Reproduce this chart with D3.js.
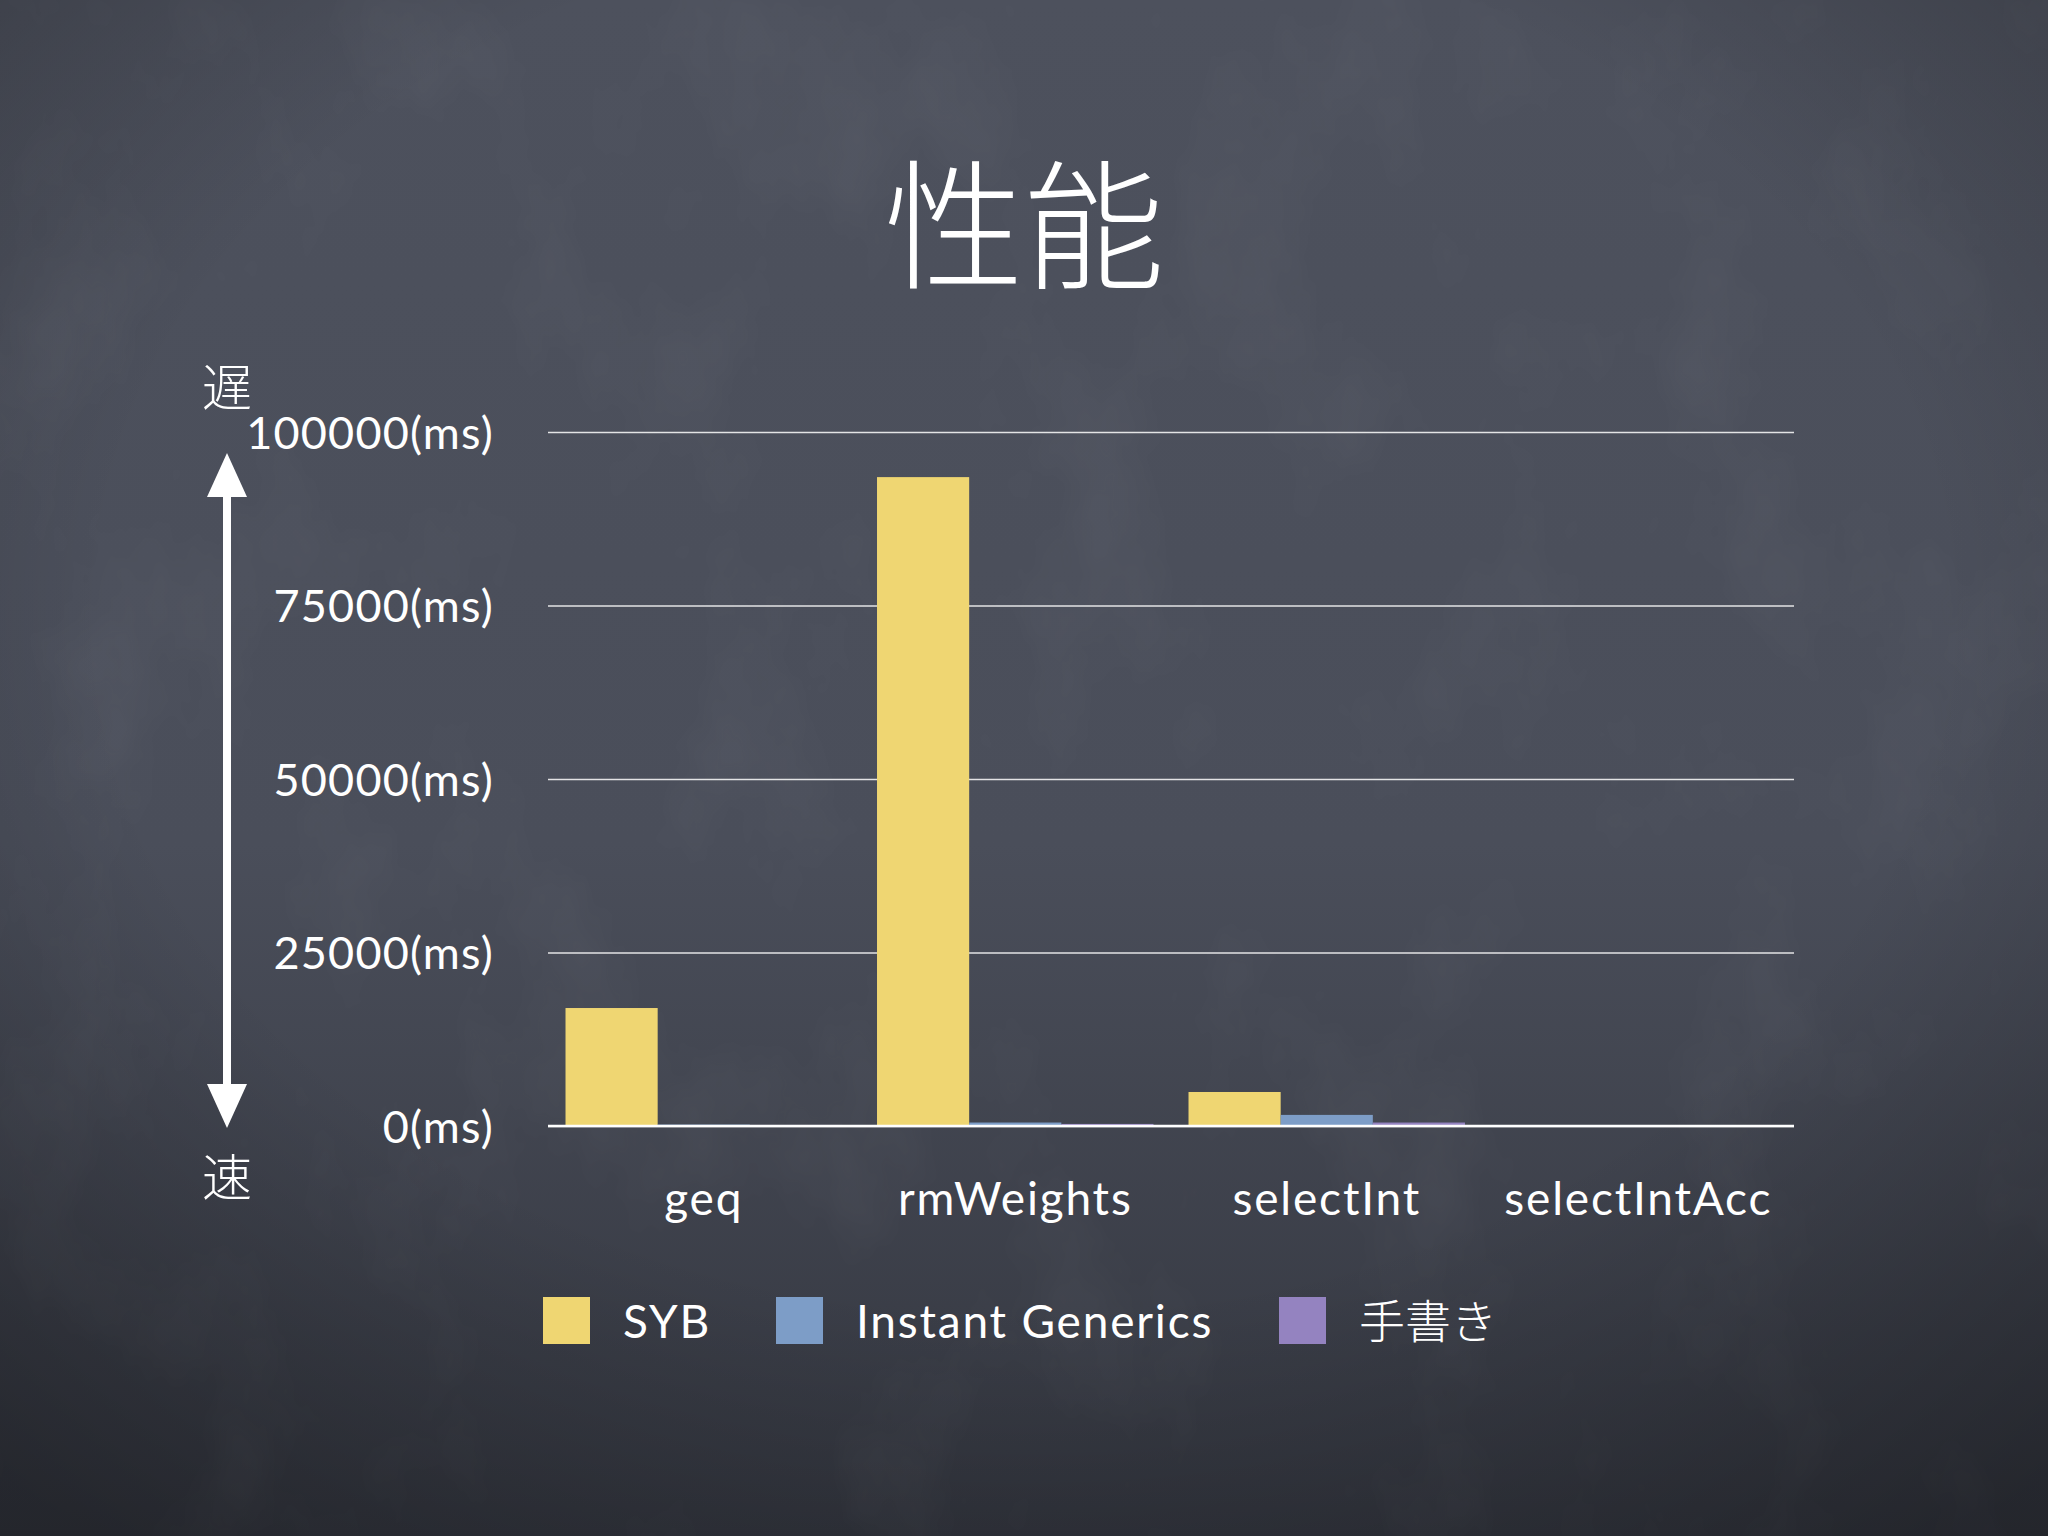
<!DOCTYPE html>
<html>
<head>
<meta charset="utf-8">
<script src="https://cdn.jsdelivr.net/npm/d3@7"></script>
<style>
  html, body { margin: 0; padding: 0; background: #3c3f4a; }
  svg { display: block; }
</style>
</head>
<body>
<div class="chart"></div>
<script>
// data
var categories = ["geq", "rmWeights", "selectInt", "selectIntAcc"];
var seriesNames = ["SYB", "Instant Generics", "手書き"];
var sybValues = [17000, 93500, 4900, 40];
var igValues = [200, 500, 1600, 20];
var handValues = [150, 300, 500, 15];
var yTicks = [0, 25000, 50000, 75000, 100000];
var colors = ["#efd672", "#7d9dc7", "#9483c0"];

var W = 2048, H = 1536;
var margin = {top: 432, right: 2048 - 1794, bottom: 1536 - 1126, left: 548};
var width = W - margin.left - margin.right,
    height = H - margin.top - margin.bottom;

var latin = "Lato, 'Noto Sans', sans-serif";
var cjk = "'Noto Sans CJK JP', 'Noto Sans', sans-serif";

var svg = d3.select(".chart").append("svg")
    .attr("width", W)
    .attr("height", H);

var defs = svg.append("defs");
var bg = defs.append("linearGradient").attr("id", "bg")
    .attr("x1", 0).attr("y1", 0).attr("x2", 0).attr("y2", 1);
bg.append("stop").attr("offset", "0%").attr("stop-color", "#4d515d");
bg.append("stop").attr("offset", "55%").attr("stop-color", "#4a4e5a");
bg.append("stop").attr("offset", "100%").attr("stop-color", "#33363f");

var vig = defs.append("radialGradient").attr("id", "vig")
    .attr("cx", "50%").attr("cy", "40%").attr("r", "75%");
vig.append("stop").attr("offset", "60%").attr("stop-color", "#000").attr("stop-opacity", 0);
vig.append("stop").attr("offset", "100%").attr("stop-color", "#000").attr("stop-opacity", 0.3);

// faint chalk smudges
var chalk = defs.append("filter").attr("id", "chalk")
    .attr("x", 0).attr("y", 0).attr("width", "100%").attr("height", "100%");
chalk.append("feTurbulence").attr("type", "fractalNoise")
    .attr("baseFrequency", "0.006 0.004").attr("numOctaves", 5).attr("seed", 3);
chalk.append("feColorMatrix").attr("type", "matrix")
    .attr("values", "0 0 0 0 1  0 0 0 0 1  0 0 0 0 1  0 0 0 0.8 -0.4");

svg.append("rect").attr("width", W).attr("height", H).attr("fill", "url(#bg)");
svg.append("rect").attr("width", W).attr("height", H).attr("filter", "url(#chalk)").attr("opacity", 0.12);
svg.append("rect").attr("width", W).attr("height", H).attr("fill", "url(#vig)");

// title
svg.append("text")
    .attr("x", W / 2)
    .attr("y", 278)
    .attr("text-anchor", "middle")
    .attr("font-family", cjk)
    .attr("font-weight", 300)
    .attr("font-size", 140)
    .attr("fill", "#fff")
    .text("性能");

var g = svg.append("g").attr("transform", "translate(" + margin.left + "," + margin.top + ")");

var x0 = d3.scaleBand().domain(categories).range([0, width]).padding(0);
var x1 = d3.scaleBand().domain(seriesNames).range([0, x0.bandwidth()])
    .paddingInner(0).paddingOuter(0.19);
var y = d3.scaleLinear().domain([0, 100000]).range([height, 0]);

// gridlines + tick labels
var yAxis = d3.axisLeft(y)
    .tickValues(yTicks)
    .tickSize(-width)
    .tickPadding(54)
    .tickFormat(function(d) { return d + "(ms)"; });

var ya = g.append("g").call(yAxis);
ya.select(".domain").remove();
ya.selectAll(".tick line").attr("stroke", "#f4f4f4").attr("stroke-width", 1.5).attr("opacity", 0.9);
ya.selectAll(".tick text")
    .attr("fill", "#fff")
    .attr("font-family", latin)
    .attr("font-size", 45)
    .attr("letter-spacing", 1.2)
    .attr("dy", "0.36em");

// bars
var seriesValues = [sybValues, igValues, handValues];
var rows = categories.map(function(c, i) {
    return {cat: c, vals: seriesNames.map(function(s, j) { return {name: s, v: seriesValues[j][i], k: j}; })};
});

var groups = g.selectAll(".grp").data(rows).enter().append("g")
    .attr("class", "grp")
    .attr("transform", function(d) { return "translate(" + x0(d.cat) + ",0)"; });

groups.selectAll("rect").data(function(d) { return d.vals; }).enter().append("rect")
    .attr("x", function(d) { return x1(d.name); })
    .attr("y", function(d) { return y(d.v); })
    .attr("width", x1.bandwidth())
    .attr("height", function(d) { return height - y(d.v); })
    .attr("fill", function(d) { return colors[d.k]; });

// baseline
g.append("line")
    .attr("x1", 0).attr("x2", width)
    .attr("y1", height).attr("y2", height)
    .attr("stroke", "#fff").attr("stroke-width", 2.5);

// category labels
var xAxis = d3.axisBottom(x0).tickSize(0).tickPadding(56);
var xa = g.append("g").attr("transform", "translate(0," + height + ")").call(xAxis);
xa.select(".domain").remove();
xa.selectAll(".tick text")
    .attr("fill", "#fff")
    .attr("font-family", latin)
    .attr("font-size", 46)
    .attr("letter-spacing", 1.8);

// slow / fast arrow
var ax = 227;
svg.append("line")
    .attr("x1", ax).attr("x2", ax)
    .attr("y1", 490).attr("y2", 1090)
    .attr("stroke", "#fff").attr("stroke-width", 8);
svg.append("path")
    .attr("d", "M" + ax + ",453 L" + (ax - 20) + ",497 L" + (ax + 20) + ",497 Z")
    .attr("fill", "#fff");
svg.append("path")
    .attr("d", "M" + ax + ",1128 L" + (ax - 20) + ",1084 L" + (ax + 20) + ",1084 Z")
    .attr("fill", "#fff");

svg.append("text")
    .attr("x", ax).attr("y", 406)
    .attr("text-anchor", "middle")
    .attr("font-family", cjk).attr("font-weight", 300)
    .attr("font-size", 50).attr("fill", "#fff")
    .text("遅");
svg.append("text")
    .attr("x", ax).attr("y", 1196)
    .attr("text-anchor", "middle")
    .attr("font-family", cjk).attr("font-weight", 300)
    .attr("font-size", 50).attr("fill", "#fff")
    .text("速");

// legend
var legendX = [543, 776, 1279];
var legend = svg.selectAll(".lg").data(seriesNames).enter().append("g")
    .attr("class", "lg")
    .attr("transform", function(d, i) { return "translate(" + legendX[i] + ",1297)"; });
legend.append("rect")
    .attr("width", 47).attr("height", 47)
    .attr("fill", function(d, i) { return colors[i]; });
legend.append("text")
    .attr("x", 80).attr("y", 24).attr("dy", "0.36em")
    .attr("fill", "#fff")
    .attr("font-family", function(d, i) { return i == 2 ? cjk : latin; })
    .attr("font-weight", function(d, i) { return i == 2 ? 300 : 400; })
    .attr("letter-spacing", function(d, i) { return i == 2 ? 0 : 1.8; })
    .attr("font-size", 46)
    .text(function(d) { return d; });
</script>
</body>
</html>
